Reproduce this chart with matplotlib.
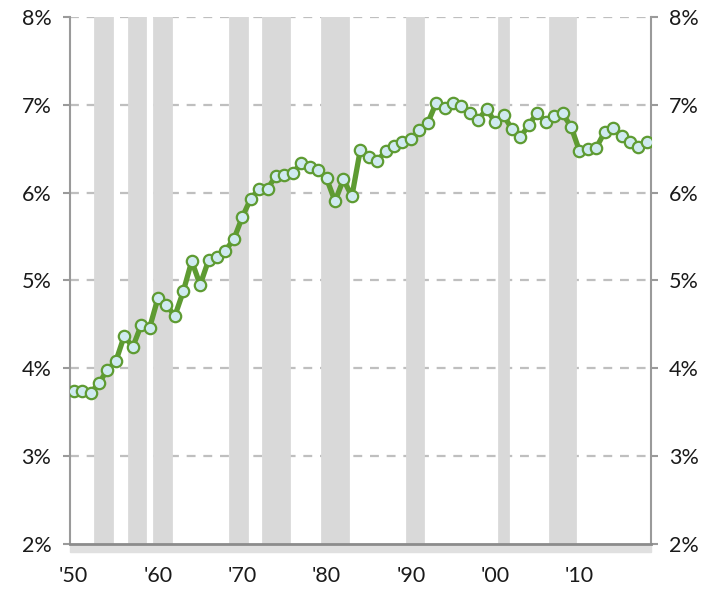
import matplotlib.pyplot as plt
from matplotlib.patches import Rectangle

plt.rcParams['font.family'] = ['Lato', 'DejaVu Sans']

# Data (percent)
years = list(range(1950, 2019))
share = [3.74, 3.745, 3.72, 3.83, 3.985, 4.08, 4.37, 4.24, 4.49, 4.46,
         4.80, 4.72, 4.595, 4.875, 5.22, 4.95, 5.23, 5.27, 5.34, 5.47,
         5.72, 5.93, 6.04, 6.045, 6.19, 6.205, 6.22, 6.34, 6.29, 6.26,
         6.16, 5.90, 6.15, 5.955, 6.485, 6.41, 6.36, 6.47, 6.53, 6.57,
         6.61, 6.71, 6.79, 7.02, 6.96, 7.015, 6.985, 6.91, 6.83, 6.95,
         6.80, 6.88, 6.72, 6.63, 6.77, 6.91, 6.80, 6.875, 6.90, 6.75,
         6.475, 6.50, 6.51, 6.69, 6.73, 6.64, 6.58, 6.52, 6.57]
recession_years = [1953, 1954, 1957, 1958, 1960, 1961, 1969, 1970,
                   1973, 1974, 1975, 1980, 1981, 1982, 1990, 1991,
                   2001, 2007, 2008, 2009]
y_ticks = [2, 3, 4, 5, 6, 7, 8]
x_ticks = [1950, 1960, 1970, 1980, 1990, 2000, 2010]
x_labels = ["'50", "'60", "'70", "'80", "'90", "'00", "'10"]

fig = plt.figure(figsize=(7.21, 5.90), dpi=100)
ax = fig.add_axes([0.0964, 0.078, 0.8066, 0.8935])

grey = '#D9D9D9'
green = '#5E9B32'

# recession shading
ax.bar(recession_years, [8 - 2] * len(recession_years), bottom=2, width=1,
       color=grey, edgecolor=grey, linewidth=2, zorder=1)

ax.plot(years, share, color=green, lw=3.8, marker='o', ms=8.2,
        mfc='#CFEAF0', mec=green, mew=1.6, zorder=3)

ax.set_xlim(1949.5, 2018.5)
ax.set_ylim(2, 8)
ax.set_yticks(y_ticks)
ax.set_yticklabels([f'{v}%' for v in y_ticks])
ax.set_xticks(x_ticks)
ax.set_xticklabels(x_labels)

for v in y_ticks[1:]:
    ax.axhline(v, color='#BFBFBF', lw=1.6, ls=(0, (4, 3.5)), zorder=0.5)

for s in ['left', 'right']:
    ax.spines[s].set_color('#9A9A9A')
    ax.spines[s].set_linewidth(1.5)
ax.spines['top'].set_visible(False)
ax.spines['bottom'].set_color('#8C8C8C')
ax.spines['bottom'].set_linewidth(2)
ax.spines['bottom'].set_zorder(4)

# light strip under the category axis
ax.add_patch(Rectangle((0, -0.016), 1, 0.016, transform=ax.transAxes,
                       color='#E0E0E0', clip_on=False, zorder=0))

ax.tick_params(axis='y', which='both', direction='out', length=5, width=1.5,
               color='#9A9A9A', labelsize=15.5, labelcolor='#1A1A1A',
               right=True, labelright=True, pad=8)
ax.tick_params(axis='x', length=0, labelsize=15.5, labelcolor='#1A1A1A', pad=16)

fig.savefig('out.png', dpi=100)
